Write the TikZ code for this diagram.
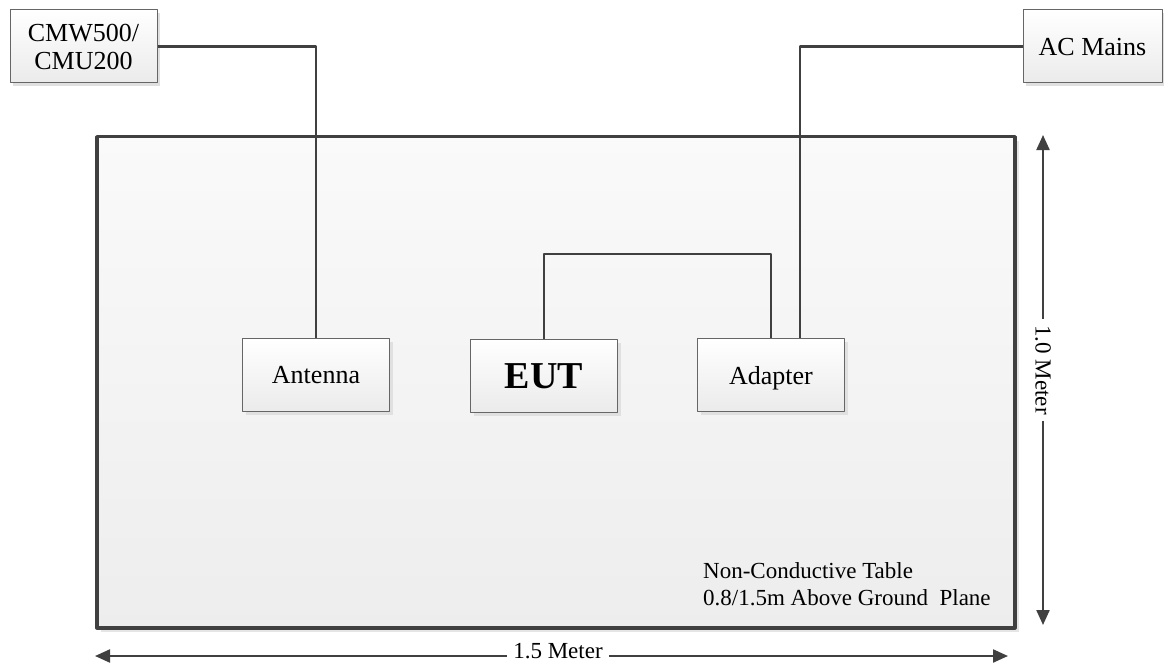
\documentclass[tikz,border=0pt]{standalone}
\usepackage{fontspec}
\setmainfont{Liberation Serif}
\usetikzlibrary{arrows.meta,shadows,positioning}
\begin{document}
\begin{tikzpicture}[x=1pt, y=-1pt, line join=round, >={Triangle[length=15pt,width=13pt]},
	box/.style={draw=black!60, line width=1pt, top color=white, bottom color=black!8,
		minimum width=147pt, minimum height=73pt, inner sep=0pt, text depth=0pt,
		font=\fontsize{26}{28}\selectfont, align=center,
		general shadow={fill=black!12, shadow xshift=3pt, shadow yshift=-3pt}},
	wire/.style={draw=black!75, line width=2.2pt},
	dim/.style={draw=black!75, line width=2.2pt},
	lab/.style={font=\fontsize{23}{27}\selectfont, inner sep=6pt}]
	\useasboundingbox (0,0) rectangle (1164,666);
	% table
	\node[draw=black!75, line width=3.5pt, top color=black!2, bottom color=black!7,
		minimum width=918pt, minimum height=491pt, anchor=north west,
		general shadow={fill=black!10, shadow xshift=4pt, shadow yshift=-4pt}] (table) at (95,135) {};
	\node[lab, inner sep=0pt, anchor=north west, align=left] (note) at (703,562)
		{Non-Conductive Table\\0.8/1.5m Above Ground\ \ Plane};
	% boxes
	\node[box] (cmw) at (83.5,46.5) {CMW500/\\CMU200};
	\node[box, minimum width=139pt] (mains) at (1092.5,46.5) {AC Mains};
	\node[box] (ant) at (316,375) {Antenna};
	\node[box, font=\fontsize{38}{40}\selectfont\bfseries] (eut) at (544,376) {EUT};
	\node[box] (adp) at (771,375) {Adapter};
	% cables
	\draw[wire] (cmw.east) -| (ant.north);
	\draw[wire] (mains.west) -| ([xshift=29pt]adp.north);
	\draw[wire] (eut.north) -- ++(0,-85) -| (adp.north);
	% dimensions
	\coordinate (vt) at (1043,135);
	\coordinate (vb) at (1043,625);
	\node[lab, rotate=-90] (vlab) at (1043,370) {1.0 Meter};
	\draw[dim,->] (vlab) -- (vt);
	\draw[dim,->] (vlab) -- (vb);
	\coordinate (hl) at (95,656);
	\coordinate (hr) at (1008,656);
	\node[lab] (hlab) at (558,651) {1.5 Meter};
	\draw[dim,->] (hlab.west |- hl) -- (hl);
	\draw[dim,->] (hlab.east |- hr) -- (hr);
\end{tikzpicture}
\end{document}
